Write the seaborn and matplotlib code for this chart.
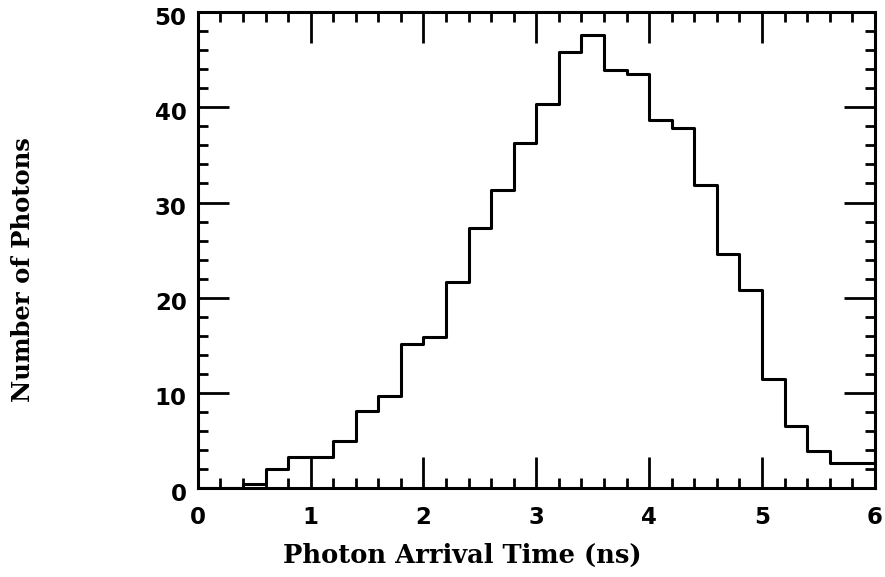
import numpy as np
import pandas as pd
import matplotlib
matplotlib.use("Agg")
import matplotlib.pyplot as plt
import matplotlib.transforms as mtransforms
import seaborn as sns
from matplotlib.ticker import MultipleLocator

# Data: bin edges (ns) and photon counts per 0.2 ns bin
bin_edges = [round(0.2 * i, 1) for i in range(31)]
counts = [0, 0, 0.4, 2.0, 3.3, 3.3, 5.0, 8.1, 9.7, 15.1,
          15.9, 21.7, 27.3, 31.3, 36.2, 40.4, 45.8, 47.6, 43.9, 43.5,
          38.7, 37.8, 31.8, 24.6, 20.8, 11.5, 6.5, 3.9, 2.6, 2.6]
x_ticks = [0, 1, 2, 3, 4, 5, 6]
y_ticks = [0, 10, 20, 30, 40, 50]

centers = [(bin_edges[i] + bin_edges[i + 1]) / 2 for i in range(len(counts))]
df = pd.DataFrame({"time": centers, "count": counts})

sns.set_style("ticks")
fig = plt.figure(figsize=(8.85, 5.77), dpi=100)
ax = fig.add_axes([0.2235, 0.154, 0.765, 0.825])

sns.histplot(data=df, x="time", weights="count", bins=bin_edges,
             element="step", fill=False, color="black", linewidth=2.2, ax=ax)

ax.set_xlim(0, 6)
ax.set_ylim(0, 50)
ax.set_xticks(x_ticks)
ax.set_yticks(y_ticks)
ax.xaxis.set_minor_locator(MultipleLocator(0.2))
ax.yaxis.set_minor_locator(MultipleLocator(2))
ax.tick_params(which="both", direction="in", top=True, right=True,
               width=2.0, color="black", labelcolor="black")
ax.tick_params(which="major", length=22)
ax.tick_params(axis="x", which="major", pad=13)
ax.tick_params(axis="y", which="major", pad=8)
ax.tick_params(which="minor", length=7.5)
for s in ax.spines.values():
    s.set_linewidth(2.2)
    s.set_color("black")

for lab in ax.get_xticklabels() + ax.get_yticklabels():
    lab.set_fontfamily("DejaVu Sans")
    lab.set_fontweight("bold")
    lab.set_fontsize(16.5)

shift = mtransforms.ScaledTranslation(0, -2.5 / 72, fig.dpi_scale_trans)
for lab in ax.get_yticklabels():
    lab.set_transform(lab.get_transform() + shift)

ax.set_xlabel("Photon Arrival Time (ns)", fontfamily="DejaVu Serif",
              fontweight="bold", fontsize=18.5, color="black")
ax.xaxis.set_label_coords(0.39, -0.115)
ax.set_ylabel("Number of Photons", fontfamily="DejaVu Serif",
              fontweight="bold", fontsize=17.5, color="black")
ax.yaxis.set_label_coords(-0.24, 0.46)

fig.savefig("out.png", dpi=100)
